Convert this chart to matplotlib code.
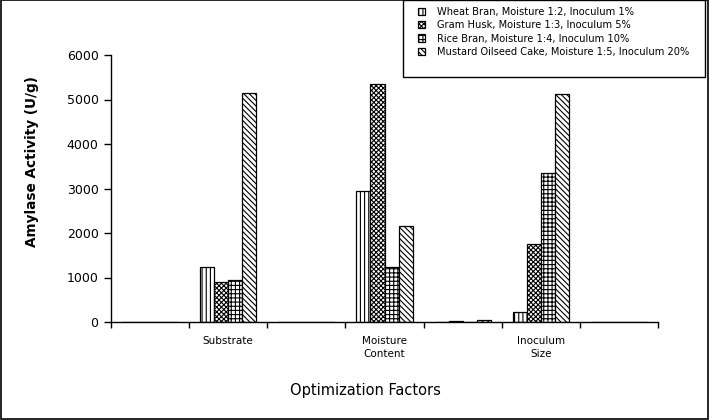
import matplotlib
matplotlib.use("Agg")
import matplotlib.pyplot as plt
import numpy as np

categories = ['', 'Substrate', '', 'Moisture\nContent', '', 'Inoculum\nSize', '']
series_names = ['Wheat Bran, Moisture 1:2, Inoculum 1%',
                'Gram Husk, Moisture 1:3, Inoculum 5%',
                'Rice Bran, Moisture 1:4, Inoculum 10%',
                'Mustard Oilseed Cake, Moisture 1:5, Inoculum 20%']
wheat_bran = [0, 1240, 0, 2950, 0, 225, 0]
gram_husk = [0, 900, 0, 5350, 15, 1750, 0]
rice_bran = [0, 935, 10, 1235, 10, 3340, 0]
mustard_cake = [0, 5150, 10, 2155, 40, 5130, 0]
y_ticks = [0, 1000, 2000, 3000, 4000, 5000, 6000]

plt.rcParams['font.family'] = ['DejaVu Sans']
plt.rcParams['hatch.linewidth'] = 0.8

W, H = 709, 420
fig = plt.figure(figsize=(W/100, H/100), dpi=100)
ax = fig.add_axes([111/W, 1-322/H, (658-111)/W, (322-55)/H])

hatches = ['||||', 'xxxxxxx', '++++', '\\\\\\\\\\\\']
data = [wheat_bran, gram_husk, rice_bran, mustard_cake]
x = np.arange(len(categories))
w = 0.18
for i, (vals, h, name) in enumerate(zip(data, hatches, series_names)):
    ax.bar(x + (i - 1.5) * w, vals, width=w, facecolor='white', edgecolor='black',
           hatch=h, linewidth=0.9, label=name)

ax.set_xlim(-0.5, len(categories) - 0.5)
ax.set_ylim(0, 6000)
ax.set_yticks(y_ticks)
ax.set_yticklabels([str(v) for v in y_ticks], fontsize=9)
ax.set_xticks(x)
ax.set_xticklabels(categories, fontsize=7.5, linespacing=1.35)
ax.tick_params(axis='x', which='major', length=0, pad=10)
ax.set_xticks(np.arange(-0.5, len(categories)), minor=True)
ax.tick_params(axis='x', which='minor', length=4, width=1, direction='out')
ax.tick_params(axis='y', length=5, width=1, direction='out', pad=4)
for s in ['top', 'right']:
    ax.spines[s].set_visible(False)
for s in ['left', 'bottom']:
    ax.spines[s].set_linewidth(1.0)

fig.text(32/W, 1-162/H, 'Amylase Activity (U/g)', rotation=90, ha='center', va='center',
         fontsize=9.8, fontweight='bold')
fig.text(365/W, 1-391/H, 'Optimization Factors', ha='center', va='center', fontsize=10.5)

# legend box
fig.patches.append(plt.Rectangle((403/W, 1-77/H), (705-403)/W, 77/H, transform=fig.transFigure,
                                 fill=False, edgecolor='black', linewidth=1.0))
handles, labels = ax.get_legend_handles_labels()
leg = fig.legend(handles, labels, loc='upper left', bbox_to_anchor=(418/W, 1-7/H), fontsize=7.1,
                 frameon=False, handlelength=0.75, handleheight=0.75, handletextpad=1.15,
                 labelspacing=0.33, borderpad=0, borderaxespad=0)

fig.patches.append(plt.Rectangle((0.001, 0.003), 0.997, 0.996, transform=fig.transFigure,
                                 fill=False, edgecolor='black', linewidth=1.2))

fig.savefig('out.png', dpi=100)
